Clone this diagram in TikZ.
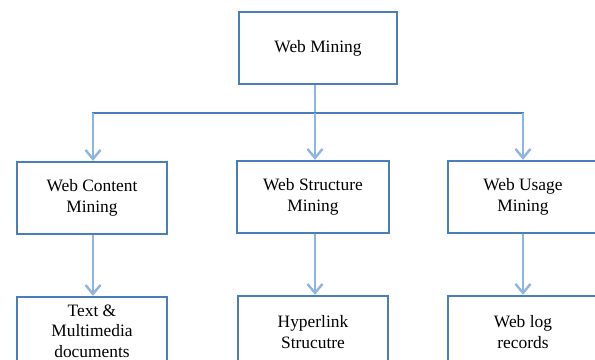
\documentclass[tikz,border=0pt]{standalone}
\usepackage{fontspec}
\setmainfont{Liberation Serif}
\usetikzlibrary{arrows.meta}
\definecolor{boxblue}{HTML}{4A7EBB}
\definecolor{lineblue}{HTML}{8EB4E3}
\begin{document}
\begin{tikzpicture}[x=1bp,y=-1bp,
  box/.style={draw=boxblue,line width=2.4bp,fill=white,align=center,
    minimum width=150bp,minimum height=72bp,inner sep=0pt,
    font=\fontsize{17.4bp}{20.5bp}\selectfont},
  hline/.style={draw=boxblue,line width=2.2bp},
  vline/.style={draw=lineblue,line width=2.4bp},
  arr/.style={vline,-{Straight Barb[length=9bp,width=15bp]}}]
\useasboundingbox (0,0) rectangle (595,359);
\clip (0,0) rectangle (595,359);
\node[box,minimum width=158bp] (top) at (318,48) {Web Mining};
\node[box] (c1) at (92,198) {Web Content\\Mining};
\node[box,minimum width=152bp] (c2) at (313,197) {Web Structure\\Mining};
\node[box] (c3) at (523,197) {Web Usage\\Mining};
\node[box,minimum height=68bp] (b1) at (92,331) {Text \&\\Multimedia\\documents};
\node[box] (b2) at (313,332) {Hyperlink\\Strucutre};
\node[box] (b3) at (523,332) {Web log\\records};
\coordinate (j) at (315,113);
\coordinate (jl) at (93,113);
\coordinate (jr) at (523,113);
\draw[vline] (top.south -| j) -- (j);
\draw[hline] ([xshift=-1.1bp]jl) -- ([xshift=1.1bp]jr);
\draw[arr] (jl) -- (c1.north -| jl);
\draw[arr] (j) -- (c2.north -| j);
\draw[arr] (jr) -- (c3.north -| jr);
\draw[arr] (c1.south -| jl) -- (b1.north -| jl);
\draw[arr] (c2.south -| j) -- (b2.north -| j);
\draw[arr] (c3.south -| jr) -- (b3.north -| jr);
\end{tikzpicture}
\end{document}
